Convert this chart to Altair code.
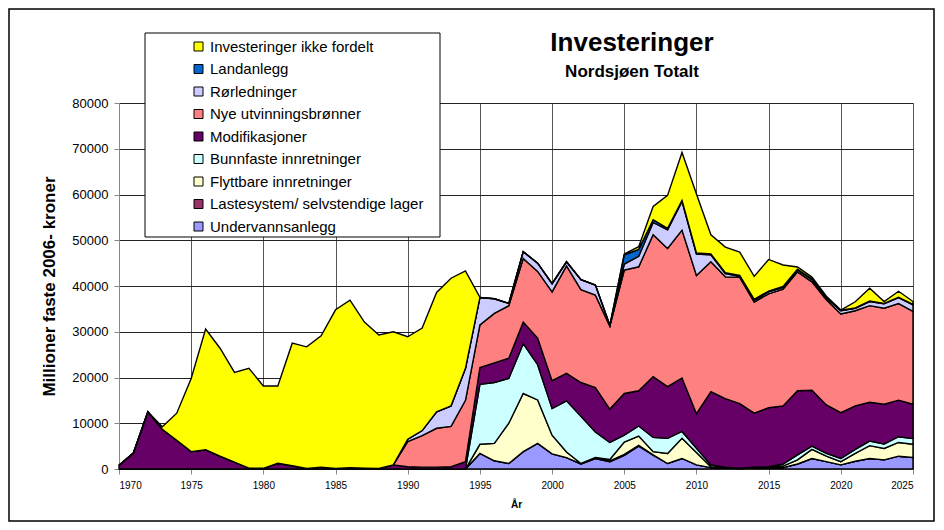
import altair as alt
import pandas as pd

years = list(range(1970, 2026))

title_text = "Investeringer"
subtitle_text = "Nordsjøen Totalt"

# legend order (top to bottom)
legend_order = [
    "Investeringer ikke fordelt",
    "Landanlegg",
    "Rørledninger",
    "Nye utvinningsbrønner",
    "Modifikasjoner",
    "Bunnfaste innretninger",
    "Flyttbare innretninger",
    "Lastesystem/ selvstendige lager",
    "Undervannsanlegg",
]
colors = ["#FFFF00", "#0066CC", "#CCCCFF", "#FF8080", "#660066",
          "#CCFFFF", "#FFFFCC", "#993366", "#9999FF"]

z25 = [0] * 25  # 1970-1994

undervann = z25 + [3400, 1800, 1200, 3800, 5600, 3300, 2500, 1100, 2300, 1600,
                   3000, 5000, 3000, 1200, 2300, 900, 300, 200, 100, 200,
                   300, 300, 1100, 2300, 1600, 900, 1700, 2300, 2000, 2800, 2500]
lastesystem = z25 + [0, 0, 0, 0, 0, 0, 0, 0, 100, 200,
                     200, 200, 100, 0, 0, 0, 0, 0, 0, 0,
                     0, 0, 0, 0, 0, 0, 0, 0, 0, 0, 0]
flyttbare = z25 + [2000, 3800, 8800, 12700, 9500, 4100, 1200, 100, 100, 300,
                   2700, 2000, 700, 2200, 4400, 2700, 200, 100, 50, 100,
                   100, 350, 900, 2000, 1200, 700, 1700, 2800, 2500, 3000, 2900]
bunnfaste = z25 + [13100, 13300, 9800, 10900, 7700, 5800, 11200, 10300, 5600, 3700,
                   1500, 2200, 3100, 3300, 1500, 900, 400, 100, 50, 100,
                   100, 450, 1100, 700, 600, 700, 900, 1000, 950, 1250, 1250]
modifikasjoner = [800, 3500, 12500, 8700, 6300, 3800, 4200, 2800, 1500, 200,
                  150, 1250, 700, 100, 400, 100, 300, 200, 100, 900,
                  500, 400, 400, 500, 1600, 3700, 4300, 4400, 4700, 5800,
                  6100, 6000, 7400, 9700, 7300, 9100, 7700, 13300, 11300, 11700,
                  7600, 16000, 15000, 14100, 11800, 12900, 12700, 14000, 12200, 10600,
                  10000, 9500, 8500, 8700, 8000, 7500]
nye_bronner = [0] * 20 + [5500, 6900, 8500, 8800, 13400, 9300, 10800, 11500, 13900, 14600,
                          19400, 23500, 20300, 20200, 18100, 27000, 27100, 31000, 30200, 32300,
                          30200, 28400, 26600, 27600, 24300, 24900, 25500, 26000, 23700, 23000,
                          21600, 20800, 21100, 21000, 21100, 20300]
rorledninger = [0] * 20 + [500, 1100, 3600, 4500, 7000, 6000, 3200, 500, 1500, 1800,
                           1800, 900, 2200, 2200, 200, 1300, 2300, 2700, 4100, 6300,
                           4700, 1500, 700, 200, 400, 400, 400, 400, 500, 400,
                           700, 500, 900, 950, 1300, 1450]
landanlegg = [0] * 35 + [2000, 1500, 600, 300, 200, 200, 200, 200, 200, 200,
                         200, 200, 150, 150, 150, 100, 100, 100, 100, 100, 100]
ikke_fordelt = [0, 0, 0, 550, 5900, 16000, 26400, 23600, 19600, 21800,
                18000, 16900, 26800, 26600, 28700, 34700, 36600, 31900, 29200, 29100,
                22400, 22400, 26100, 27900, 21300, 0, 0, 0, 0, 0,
                0, 0, 0, 0, 0, 200, 600, 2900, 7200, 10500,
                12900, 4200, 5600, 5100, 5000, 6900, 4700, 500, 400, 200,
                50, 1350, 2800, 400, 1300, 600]

series = {
    "Undervannsanlegg": undervann,
    "Lastesystem/ selvstendige lager": lastesystem,
    "Flyttbare innretninger": flyttbare,
    "Bunnfaste innretninger": bunnfaste,
    "Modifikasjoner": modifikasjoner,
    "Nye utvinningsbrønner": nye_bronner,
    "Rørledninger": rorledninger,
    "Landanlegg": landanlegg,
    "Investeringer ikke fordelt": ikke_fordelt,
}

x_ticks = list(range(1970, 2026, 5))
y_ticks = list(range(0, 80001, 10000))

rows = []
for i, (name, vals) in enumerate(series.items()):
    for yr, v in zip(years, vals):
        rows.append({"År": yr, "serie": name, "verdi": v, "rekkefolge": i})
df = pd.DataFrame(rows)

FONT = "Liberation Sans, Arial, sans-serif"
W, H = 794, 366

one = pd.DataFrame({"k": [0]})

legend_box = alt.Chart(one).mark_rect(
    fill="white", stroke="black", strokeWidth=1
).encode(
    x=alt.value(26), x2=alt.value(321), y=alt.value(-70), y2=alt.value(134)
)

frame = alt.Chart(one).mark_rect(
    fill=None, stroke="black", strokeWidth=1.5
).encode(
    x=alt.value(-110), x2=alt.value(815), y=alt.value(-94), y2=alt.value(418)
)

title_mark = alt.Chart(pd.DataFrame({"t": [title_text]})).mark_text(
    font=FONT, fontSize=26, fontWeight="bold", color="black",
    align="center", baseline="middle"
).encode(x=alt.value(513), y=alt.value(-60), text="t:N")

subtitle_mark = alt.Chart(pd.DataFrame({"t": [subtitle_text]})).mark_text(
    font=FONT, fontSize=17, fontWeight="bold", color="black",
    align="center", baseline="middle"
).encode(x=alt.value(513), y=alt.value(-31), text="t:N")

areas = alt.Chart(df).mark_area(
    stroke="black", strokeWidth=1.4, interpolate="linear", strokeJoin="miter"
).encode(
    x=alt.X("År:Q",
            scale=alt.Scale(domain=[1970, 2025], nice=False, zero=False),
            axis=alt.Axis(values=x_ticks, format="d", title="År",
                          labelFontSize=10, labelPadding=6, tickSize=5,
                          titleFontSize=10, titleFontWeight="bold", titlePadding=9,
                          grid=True, gridColor="#555555", gridWidth=1)),
    y=alt.Y("verdi:Q", stack="zero",
            scale=alt.Scale(domain=[0, 80000], nice=False),
            axis=alt.Axis(values=y_ticks, format="d",
                          title="Millioner faste 2006- kroner",
                          labelFontSize=13, labelPadding=6, tickSize=5,
                          titleFontSize=17, titleFontWeight="bold", titlePadding=13,
                          grid=True, gridColor="#222222", gridWidth=1)),
    color=alt.Color("serie:N",
                    scale=alt.Scale(domain=legend_order, range=colors),
                    legend=alt.Legend(
                        title=None, orient="none", legendX=72, legendY=-64,
                        symbolType="square", symbolSize=81,
                        symbolStrokeColor="black", symbolStrokeWidth=1,
                        symbolOpacity=1,
                        labelFontSize=15, labelFont=FONT, labelColor="black",
                        rowPadding=6.5, labelOffset=4, padding=0,
                        labelLimit=400)),
    order=alt.Order("rekkefolge:Q", sort="ascending"),
)

chart = alt.layer(legend_box, areas, frame, title_mark, subtitle_mark).properties(
    width=W, height=H,
    autosize=alt.AutoSizeParams(type="none"),
    padding={"left": 111, "top": 95, "right": 23, "bottom": 53},
).configure_view(
    stroke="#555555", strokeWidth=1
).configure_axis(
    labelFont=FONT, titleFont=FONT, labelColor="black", titleColor="black",
    domainColor="black", tickColor="black", domainWidth=1
).configure(background="white")

chart.save("out.html", embed_options={"renderer": "svg", "actions": False})
